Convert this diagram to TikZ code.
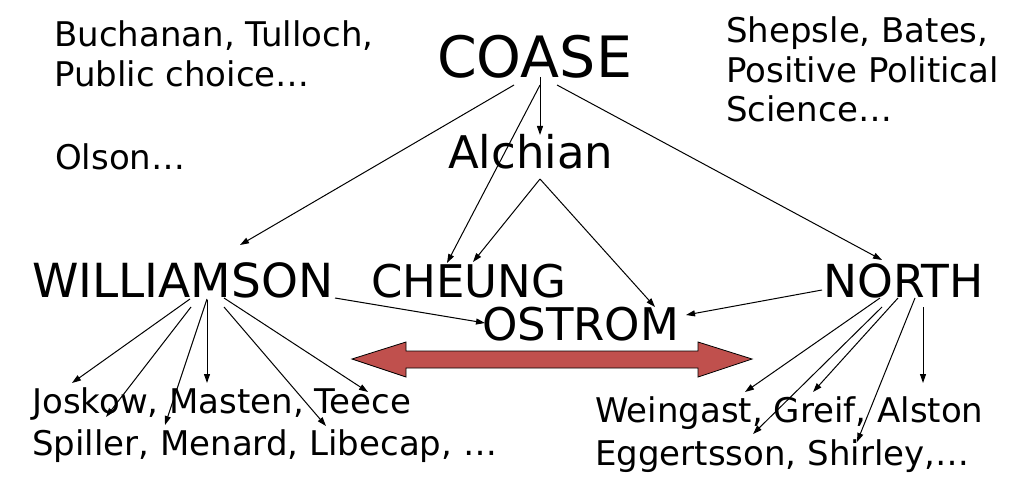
\documentclass[tikz,border=0pt]{standalone}
\usepackage{fontspec}
\setmainfont{DejaVu Sans}
\usetikzlibrary{arrows.meta, calc}
\definecolor{arRed}{HTML}{C0504D}
\tikzset{
  link/.style     = {-{Triangle[length=9pt,width=6pt]}, line width=1pt, black},
  person/.style   = {inner sep=0pt, anchor=base west, font=\fontsize{45}{54}\selectfont},
  school/.style   = {inner sep=0pt, anchor=base west, align=left},
  bigarrow/.style = {fill=arRed, draw=black, line width=0.8pt},
}
\begin{document}
\begin{tikzpicture}[x=1pt, y=-1pt]
\useasboundingbox (0,0) rectangle (1035,497);

% ---- the founders and the second row --------------------------------------
\node[person, font=\fontsize{57}{64}\selectfont] (coase) at (437,78) {COASE};
\node[person, font=\fontsize{45}{52}\selectfont] (alch) at (448,169) {Alchian};
\node[person, font=\fontsize{47}{54}\selectfont] (will) at (32,297) {WILLIAMSON};
\node[person] (cheung) at (371,297) {CHEUNG};
\node[person, font=\fontsize{45.5}{54}\selectfont] (north) at (823,297) {NORTH};
\node[person] (ostrom) at (482,340) {OSTROM};

% ---- side groups (base = last line) ----------------------------------------
\node[school, font=\fontsize{34}{40}\selectfont] (buch) at (54,87) {Buchanan, Tulloch,\\Public choice…};
\node[school, font=\fontsize{34}{40}\selectfont] (olson) at (55,170) {Olson…};
\node[school, font=\fontsize{34}{39.5}\selectfont] (shep) at (726,122) {Shepsle, Bates,\\Positive Political\\Science…};
\node[school, font=\fontsize{34}{42}\selectfont] (josk) at (32,455) {Joskow, Masten, Teece\\Spiller, Menard, Libecap, …};
\node[school, font=\fontsize{34}{43}\selectfont] (wein) at (595,465) {Weingast, Greif, Alston\\Eggertsson, Shirley,…};

% ---- from Coase and Alchian ------------------------------------------------
\draw[link] ([shift={(103,-1)}]coase.base west) -- ([shift={(92,-34)}]alch.base west);
\draw[link] ([shift={(103,7)}]coase.base west)  -- ([shift={(76,-34)}]cheung.base west);
\draw[link] ([shift={(77,7)}]coase.base west)   -- ([shift={(208,-52)}]will.base west);
\draw[link] ([shift={(120,7)}]coase.base west)  -- ([shift={(59,-37)}]north.base west);
\draw[link] ([shift={(92,10)}]alch.base west)   -- ([shift={(102,-35)}]cheung.base west);
\draw[link] ([shift={(92,10)}]alch.base west)   -- ([shift={(173,-33)}]ostrom.base west);

% ---- towards Ostrom --------------------------------------------------------
\draw[link] ([shift={(303,1)}]will.base west)   -- ([shift={(3,-17)}]ostrom.base west);
\draw[link] ([shift={(-1,-7)}]north.base west)  -- ([shift={(204,-25)}]ostrom.base west);

% ---- Williamson's followers ------------------------------------------------
\draw[link] ([shift={(158,2)}]will.base west)  -- ([shift={(40,-72)}]josk.base west);
\draw[link] ([shift={(159,10)}]will.base west) -- ([shift={(74,-38)}]josk.base west);
\draw[link] ([shift={(175,2)}]will.base west)  -- ([shift={(133,-30)}]josk.base west);
\draw[link] ([shift={(175,3)}]will.base west)  -- ([shift={(175,-72)}]josk.base west);
\draw[link] ([shift={(192,10)}]will.base west) -- ([shift={(294,-29)}]josk.base west);
\draw[link] ([shift={(192,1)}]will.base west)  -- ([shift={(336,-63)}]josk.base west);

% ---- North's followers -----------------------------------------------------
\draw[link] ([shift={(57,1)}]north.base west)   -- ([shift={(150,-73)}]wein.base west);
\draw[link] ([shift={(59,10)}]north.base west)  -- ([shift={(158,-31)}]wein.base west);
\draw[link] ([shift={(75,1)}]north.base west)   -- ([shift={(218,-73)}]wein.base west);
\draw[link] ([shift={(92,1)}]north.base west)   -- ([shift={(262,-23)}]wein.base west);
\draw[link] ([shift={(100,10)}]north.base west) -- ([shift={(328,-82)}]wein.base west);

% ---- two-way arrow between the camps ---------------------------------------
\draw[bigarrow] (352,359) -- (406,342) -- (406,351) -- (698,351) -- (698,342)
  -- (752,359) -- (698,377) -- (698,368) -- (406,368) -- (406,377) -- cycle;

\end{tikzpicture}
\end{document}
